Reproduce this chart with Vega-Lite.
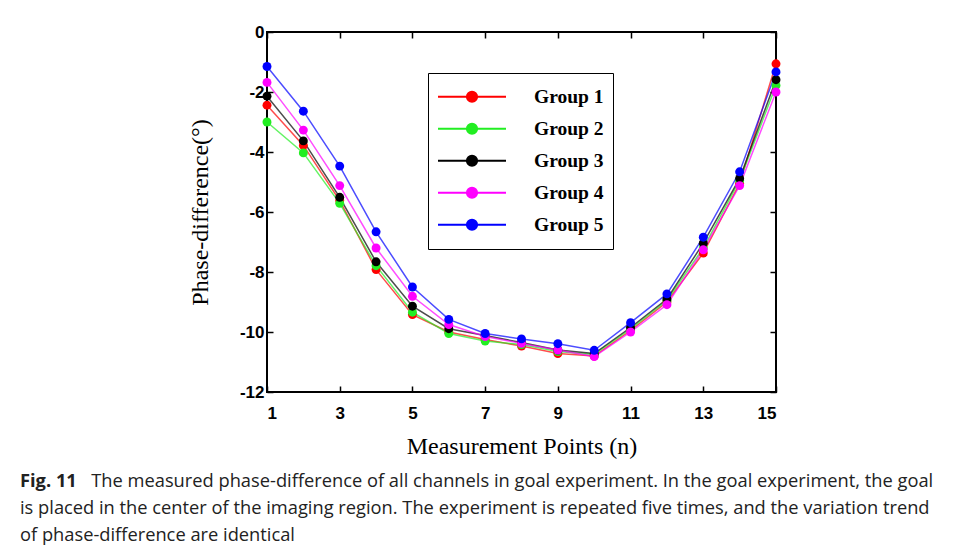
{
  "$schema": "https://vega.github.io/schema/vega-lite/v6.json",
  "autosize": "none",
  "width": 509,
  "height": 360,
  "padding": {"left": 267, "top": 32, "right": 180, "bottom": 163},
  "background": "white",
  "config": {
    "view": {"stroke": "black", "strokeWidth": 2},
    "axis": {
      "domain": false,
      "grid": false,
      "tickSize": -6,
      "tickColor": "black",
      "tickWidth": 1.5,
      "labelFont": "Liberation Sans",
      "labelFontWeight": "bold",
      "labelFontSize": 17,
      "labelColor": "black",
      "titleFont": "Liberation Serif",
      "titleFontSize": 24,
      "titleFontWeight": "normal",
      "titleColor": "black"
    }
  },
  "title": {
    "text": "Fig. 11",
    "subtitle": [
      "\u200b\u00a0\u00a0\u00a0\u00a0\u00a0\u00a0\u00a0\u00a0\u00a0\u00a0\u00a0\u00a0\u00a0\u00a0\u00a0The measured phase-difference of all channels in goal experiment. In the goal experiment, the goal",
      "is placed in the center of the imaging region. The experiment is repeated five times, and the variation trend",
      "of phase-difference are identical"
    ],
    "orient": "bottom",
    "anchor": "start",
    "frame": "group",
    "dx": -247,
    "offset": 15,
    "font": "Open Sans",
    "fontSize": 18.3,
    "fontWeight": "bold",
    "color": "#222",
    "subtitleFont": "Open Sans",
    "subtitleFontSize": 18.3,
    "subtitleColor": "#222",
    "subtitleLineHeight": 27,
    "subtitlePadding": -18.3
  },
  "data": {
    "values": [
      {"group": "Group 1", "point": 1, "value": -2.44},
      {"group": "Group 1", "point": 2, "value": -3.78},
      {"group": "Group 1", "point": 3, "value": -5.62},
      {"group": "Group 1", "point": 4, "value": -7.92},
      {"group": "Group 1", "point": 5, "value": -9.42},
      {"group": "Group 1", "point": 6, "value": -10.0},
      {"group": "Group 1", "point": 7, "value": -10.25},
      {"group": "Group 1", "point": 8, "value": -10.47},
      {"group": "Group 1", "point": 9, "value": -10.72},
      {"group": "Group 1", "point": 10, "value": -10.8},
      {"group": "Group 1", "point": 11, "value": -9.95},
      {"group": "Group 1", "point": 12, "value": -9.0},
      {"group": "Group 1", "point": 13, "value": -7.37},
      {"group": "Group 1", "point": 14, "value": -5.05},
      {"group": "Group 1", "point": 15, "value": -1.06},
      {"group": "Group 2", "point": 1, "value": -3.0},
      {"group": "Group 2", "point": 2, "value": -4.03},
      {"group": "Group 2", "point": 3, "value": -5.71},
      {"group": "Group 2", "point": 4, "value": -7.79},
      {"group": "Group 2", "point": 5, "value": -9.34},
      {"group": "Group 2", "point": 6, "value": -10.05},
      {"group": "Group 2", "point": 7, "value": -10.3},
      {"group": "Group 2", "point": 8, "value": -10.42},
      {"group": "Group 2", "point": 9, "value": -10.65},
      {"group": "Group 2", "point": 10, "value": -10.75},
      {"group": "Group 2", "point": 11, "value": -9.9},
      {"group": "Group 2", "point": 12, "value": -8.95},
      {"group": "Group 2", "point": 13, "value": -7.2},
      {"group": "Group 2", "point": 14, "value": -4.95},
      {"group": "Group 2", "point": 15, "value": -1.78},
      {"group": "Group 3", "point": 1, "value": -2.14},
      {"group": "Group 3", "point": 2, "value": -3.63},
      {"group": "Group 3", "point": 3, "value": -5.51},
      {"group": "Group 3", "point": 4, "value": -7.66},
      {"group": "Group 3", "point": 5, "value": -9.14},
      {"group": "Group 3", "point": 6, "value": -9.89},
      {"group": "Group 3", "point": 7, "value": -10.12},
      {"group": "Group 3", "point": 8, "value": -10.35},
      {"group": "Group 3", "point": 9, "value": -10.6},
      {"group": "Group 3", "point": 10, "value": -10.72},
      {"group": "Group 3", "point": 11, "value": -9.85},
      {"group": "Group 3", "point": 12, "value": -8.9},
      {"group": "Group 3", "point": 13, "value": -7.04},
      {"group": "Group 3", "point": 14, "value": -4.88},
      {"group": "Group 3", "point": 15, "value": -1.59},
      {"group": "Group 4", "point": 1, "value": -1.68},
      {"group": "Group 4", "point": 2, "value": -3.27},
      {"group": "Group 4", "point": 3, "value": -5.12},
      {"group": "Group 4", "point": 4, "value": -7.2},
      {"group": "Group 4", "point": 5, "value": -8.81},
      {"group": "Group 4", "point": 6, "value": -9.75},
      {"group": "Group 4", "point": 7, "value": -10.15},
      {"group": "Group 4", "point": 8, "value": -10.38},
      {"group": "Group 4", "point": 9, "value": -10.6},
      {"group": "Group 4", "point": 10, "value": -10.82},
      {"group": "Group 4", "point": 11, "value": -10.0},
      {"group": "Group 4", "point": 12, "value": -9.09},
      {"group": "Group 4", "point": 13, "value": -7.26},
      {"group": "Group 4", "point": 14, "value": -5.12},
      {"group": "Group 4", "point": 15, "value": -2.0},
      {"group": "Group 5", "point": 1, "value": -1.15},
      {"group": "Group 5", "point": 2, "value": -2.64},
      {"group": "Group 5", "point": 3, "value": -4.47},
      {"group": "Group 5", "point": 4, "value": -6.66},
      {"group": "Group 5", "point": 5, "value": -8.5},
      {"group": "Group 5", "point": 6, "value": -9.58},
      {"group": "Group 5", "point": 7, "value": -10.05},
      {"group": "Group 5", "point": 8, "value": -10.23},
      {"group": "Group 5", "point": 9, "value": -10.39},
      {"group": "Group 5", "point": 10, "value": -10.61},
      {"group": "Group 5", "point": 11, "value": -9.69},
      {"group": "Group 5", "point": 12, "value": -8.73},
      {"group": "Group 5", "point": 13, "value": -6.84},
      {"group": "Group 5", "point": 14, "value": -4.66},
      {"group": "Group 5", "point": 15, "value": -1.33}
    ]
  },
  "encoding": {
    "x": {
      "field": "point",
      "type": "quantitative",
      "scale": {"domain": [1, 15], "nice": false, "zero": false},
      "axis": {"values": [1, 3, 5, 7, 9, 11, 13, 15], "title": "Measurement Points (n)", "labelPadding": 19, "titlePadding": 13}
    },
    "y": {
      "field": "value",
      "type": "quantitative",
      "scale": {"domain": [-12, 0], "nice": false, "zero": false},
      "axis": {"values": [0, -2, -4, -6, -8, -10, -12], "labelExpr": "'' + datum.value", "title": "Phase-difference(°)", "labelPadding": 9, "titlePadding": 27}
    },
    "color": {
      "field": "group",
      "type": "nominal",
      "scale": {
        "domain": ["Group 1", "Group 2", "Group 3", "Group 4", "Group 5"],
        "range": ["#ff0000", "#22ee22", "#000000", "#ff00ff", "#0000ff"]
      },
      "legend": {
        "title": null,
        "orient": "none",
        "legendX": 161,
        "legendY": 41,
        "strokeColor": "black",
        "fillColor": "white",
        "padding": 9,
        "rowPadding": 2,
        "clipHeight": 29.5,
        "symbolType": "M-1,0L1,0M0.15,0A0.15,0.15,0,1,1,-0.15,0A0.15,0.15,0,1,1,0.15,0Z",
        "symbolSize": 4624,
        "symbolStrokeWidth": 2,
        "symbolOpacity": 1,
        "labelFont": "Liberation Serif",
        "labelFontWeight": "bold",
        "labelFontSize": 19.5,
        "labelColor": "black",
        "labelOffset": 27,
        "encode": {
          "symbols": {
            "update": {
              "fill": {"scale": "color", "field": "value"},
              "stroke": {"scale": "color", "field": "value"}
            }
          }
        }
      }
    }
  },
  "layer": [
    {
      "layer": [
        {"mark": {"type": "line", "strokeWidth": 1.5, "opacity": 0.7}},
        {"mark": {"type": "point", "filled": true, "size": 80, "opacity": 1}}
      ]
    },
    {
      "mark": {"type": "point", "opacity": 0},
      "encoding": {
        "x": {
          "field": "point",
          "type": "quantitative",
          "scale": {"domain": [1, 15], "nice": false, "zero": false},
          "axis": {"orient": "top", "values": [1, 3, 5, 7, 9, 11, 13, 15], "labels": false, "title": null}
        },
        "y": {
          "field": "value",
          "type": "quantitative",
          "scale": {"domain": [-12, 0], "nice": false, "zero": false},
          "axis": {"orient": "right", "values": [0, -2, -4, -6, -8, -10, -12], "labels": false, "title": null}
        }
      }
    }
  ],
  "resolve": {"axis": {"x": "independent", "y": "independent"}}
}
